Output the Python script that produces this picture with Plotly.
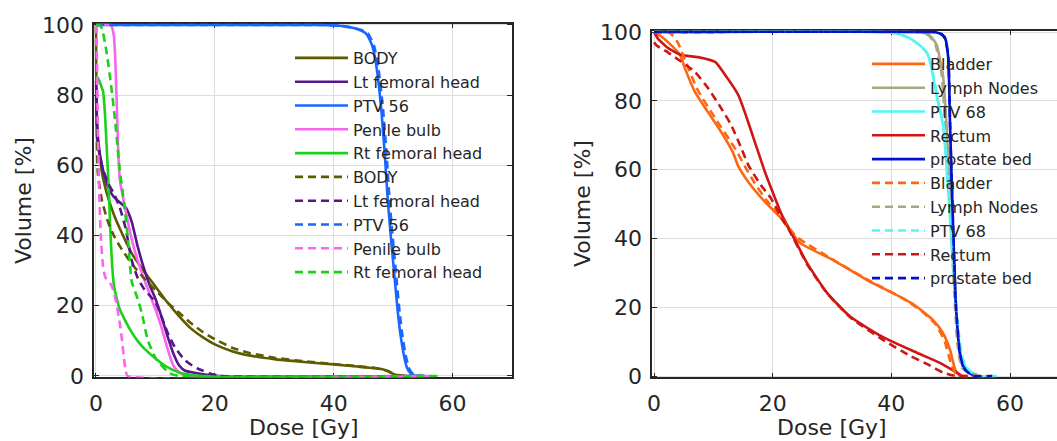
import plotly.graph_objects as go

# ---------------- Left panel data ----------------
left_names = ["BODY", "Lt femoral head", "PTV 56", "Penile bulb", "Rt femoral head"]
left_colors = ["#5E5A00", "#55168C", "#1A66FF", "#FA64F0", "#19D219"]

body_x = [0, 0.2, 1, 2, 3, 4, 6, 8, 10, 12, 14, 16, 18, 20, 23, 26, 30, 35, 40, 44, 47, 48.5, 49.5, 50.5, 52]
body_y = [100, 70, 58, 51, 46, 42, 35, 30, 25.5, 21, 17, 13.5, 11, 9, 7, 5.8, 4.8, 4, 3.3, 2.7, 2.2, 1.8, 1.0, 0.3, 0]
body_dx = [0, 0.3, 1, 2, 3, 4, 6, 8, 10, 12, 14, 16, 18, 20, 23, 26, 30, 35, 40, 44, 47, 49, 50.5, 52]
body_dy = [100, 58, 50, 44, 40, 37, 32, 28, 24.5, 21, 18, 15, 12.5, 10.5, 8, 6.5, 5.2, 4.2, 3.4, 2.8, 2.3, 1.5, 0.4, 0]

ltfh_x = [0, 0.3, 1, 2, 3, 4, 5, 6, 7, 8, 9, 10, 11, 12, 13, 14, 15, 17, 19, 21, 55]
ltfh_y = [84, 68, 60, 54, 51, 49.5, 48, 44, 37, 31, 26, 22, 17, 11.5, 6.5, 3, 1.5, 0.8, 0.3, 0, 0]
ltfh_dx = [0, 0.3, 1, 2, 3, 4, 5, 6, 7, 8, 9, 10, 11, 12, 13, 14, 15, 16, 17, 18, 19, 21, 56]
ltfh_dy = [80, 66, 60, 55, 52, 48, 42, 33, 28, 25, 23, 21, 17, 12.5, 9, 6.5, 4.5, 3.2, 2.2, 1.5, 0.8, 0, 0]

ptv56_x = [0, 38, 41, 43, 44.5, 45.5, 46.5, 47.2, 48, 48.6, 49.1, 49.7, 50.3, 50.8, 51.3, 51.8, 52.3, 52.8, 53.3, 54]
ptv56_y = [100, 100, 99.8, 99.3, 98.5, 97.5, 94, 88, 76, 63, 50, 38, 27, 18, 11, 6, 2.5, 1, 0.3, 0]
ptv56_dx = [0, 38, 41, 43, 44.8, 45.8, 46.8, 47.5, 48.3, 48.9, 49.4, 50.0, 50.6, 51.1, 51.6, 52.1, 52.6, 53.1, 53.6, 54.5, 56]
ptv56_dy = [100, 100, 99.8, 99.3, 98.5, 97.5, 94, 88, 76, 63, 50, 38, 27, 18, 11, 6, 2.5, 1, 0.3, 0, 0]

pb_x = [0, 0.1, 2.5, 3, 3.3, 3.7, 4, 5, 6, 7, 8, 9, 10, 11, 12, 13, 14, 15, 16, 55]
pb_y = [100, 100, 100, 97, 88, 66, 56, 47, 39, 33, 28, 23.5, 19, 14, 8, 3, 1, 0.3, 0, 0]
pb_dx = [0, 0.15, 0.3, 0.5, 0.8, 1.2, 1.6, 2.2, 2.8, 3.4, 4.0, 4.4, 4.7, 5.0, 5.3, 57]
pb_dy = [100, 90, 72, 55, 40, 31, 28, 27, 25, 21, 15, 10, 5, 1.5, 0, 0]

rtfh_x = [0, 0.3, 0.8, 1.2, 1.5, 1.8, 2.1, 2.4, 2.7, 3.0, 3.5, 4, 5, 6, 7, 8, 10, 12, 14, 16, 18, 55]
rtfh_y = [85, 85, 83, 81, 75, 65, 55, 42, 32, 26, 22, 19, 15.5, 12.5, 10, 8, 5, 2.5, 1, 0.3, 0, 0]
rtfh_dx = [0, 0.5, 1, 1.8, 2.6, 3.2, 4.0, 4.6, 5.4, 6.0, 7.0, 7.7, 8.7, 10.2, 12.4, 14, 58]
rtfh_dy = [100, 100, 99, 92, 82, 73, 58.7, 51, 38.7, 27, 22, 18, 10.3, 4.6, 0.8, 0, 0]

left_solid = [(body_x, body_y), (ltfh_x, ltfh_y), (ptv56_x, ptv56_y), (pb_x, pb_y), (rtfh_x, rtfh_y)]
left_dash = [(body_dx, body_dy), (ltfh_dx, ltfh_dy), (ptv56_dx, ptv56_dy), (pb_dx, pb_dy), (rtfh_dx, rtfh_dy)]

# ---------------- Right panel data ----------------
right_names = ["Bladder", "Lymph Nodes", "PTV 68", "Rectum", "prostate bed"]
right_colors = ["#FF6611", "#AAA684", "#55F5F5", "#D01515", "#0010D0"]

bl_x = [0, 1, 2.4, 4.4, 5.2, 6.9, 9.1, 11.3, 13.3, 14.2, 15.9, 18.7, 21.4, 24.6, 30.2, 35.9, 41.5, 44, 47, 48.7, 49.9, 50.8, 51.5, 52]
bl_y = [100, 99, 97, 93.3, 89.5, 82.6, 76.7, 71, 65, 61, 56.4, 50.6, 45.9, 38.7, 33.7, 27.9, 23, 20.5, 16.3, 12.5, 7.6, 1.7, 0.2, 0]
bl_dx = [0, 2.5, 4, 5.2, 7.4, 10.3, 13.7, 15.3, 17, 19, 21.5, 24, 30, 36, 42, 45, 47.5, 49, 50, 50.8, 52, 54]
bl_dy = [100, 100, 97, 92, 83, 75, 66, 61, 56, 51, 46, 40.5, 34, 28, 22.5, 19, 15, 10, 4, 0.8, 0, 0]

ln_x = [0, 44, 45.5, 46.5, 47.2, 47.7, 48.2, 48.7, 49.2, 49.6, 50, 50.3, 50.8, 51.3, 51.7, 52.1, 53, 54, 55]
ln_y = [100, 100, 99.7, 99, 97.5, 96, 92, 87.5, 76, 63.4, 53, 43.9, 24.4, 9.9, 5, 2.3, 1.2, 0.6, 0]
ln_dx = [0, 43.8, 45.3, 46.3, 47.0, 47.5, 48.0, 48.5, 49.0, 49.4, 49.8, 50.1, 50.6, 51.1, 51.5, 51.9, 52.8, 53.8, 55, 57.5]
ln_dy = [100, 100, 99.7, 99, 97.5, 96, 92, 87.5, 76, 63.4, 53, 43.9, 24.4, 9.9, 5, 2.3, 1.2, 0.6, 0, 0]

p68_x = [0, 39, 41, 43, 44.3, 45.3, 46, 46.6, 47, 47.8, 48.7, 49.6, 50.3, 51.1, 51.9, 52.6, 53.3, 54.5]
p68_y = [100, 100, 99.5, 98.3, 96.8, 95.3, 93.9, 91, 87.3, 80, 73, 53.5, 34.3, 14.8, 5.2, 2.5, 1.2, 0]
p68_dx = [0, 39, 41, 43, 44.3, 45.3, 46, 46.6, 47.1, 47.9, 48.8, 49.7, 50.4, 51.2, 52, 52.7, 53.4, 54.6, 57.8]
p68_dy = [100, 100, 99.5, 98.3, 96.8, 95.3, 93.9, 91, 87.3, 80, 73, 53.5, 34.3, 14.8, 5.2, 2.5, 1.2, 0, 0]

re_x = [0, 0.7, 2.4, 4.6, 7.4, 10.3, 12, 14.2, 15.3, 17, 18.7, 20.4, 21.5, 22.9, 25.8, 29.2, 33.1, 38.6, 44.4, 48.2, 51.1, 52]
re_y = [100, 98, 95.3, 93.3, 92.7, 91.3, 87.5, 81.7, 76.7, 68, 59.3, 51.7, 47, 42.4, 32.8, 24.1, 17.2, 11.3, 6.7, 3.8, 0.9, 0]
re_dx = [0, 0.5, 2.4, 4.5, 6.9, 9.1, 11.3, 13, 14.7, 15.9, 18, 19.7, 21.5, 22.9, 25.8, 29.2, 33.1, 38.6, 43, 46, 48.7, 50, 51, 54]
re_dy = [97, 96, 94, 91.5, 88.4, 83.7, 77.9, 73, 66.3, 61.3, 55.5, 51.7, 46, 42, 32.5, 24, 17, 10.5, 6, 3.5, 1, 0.3, 0, 0]

pbed_x = [0, 47, 47.8, 48.5, 49.1, 49.6, 49.9, 50.4, 50.9, 51.6, 52.2, 52.8, 54]
pbed_y = [100, 100, 99.8, 99.3, 98, 92.4, 73, 43.9, 19.8, 6.1, 2.5, 1.2, 0]
pbed_dx = [0, 47, 47.8, 48.5, 49.1, 49.6, 49.9, 50.4, 50.9, 51.6, 52.2, 52.8, 54, 57]
pbed_dy = [100, 100, 99.8, 99.3, 98, 92.4, 73, 43.9, 19.8, 6.1, 2.5, 1.2, 0, 0]

right_solid = [(bl_x, bl_y), (ln_x, ln_y), (p68_x, p68_y), (re_x, re_y), (pbed_x, pbed_y)]
right_dash = [(bl_dx, bl_dy), (ln_dx, ln_dy), (p68_dx, p68_dy), (re_dx, re_dy), (pbed_dx, pbed_dy)]

x_ticks = [0, 20, 40, 60]
y_ticks = [0, 20, 40, 60, 80, 100]

# ---------------- Figure ----------------
W, H = 1057, 441
FONT = "DejaVu Sans"
TXT = "#262626"
LW = 2.6
DASH = "8px,5px"

fig = go.Figure()

def add_set(names, colors, solid, dash, xa, ya, leg):
    for n, c, (x, y) in zip(names, colors, solid):
        fig.add_trace(go.Scatter(x=x, y=y, mode="lines", name=n, xaxis=xa, yaxis=ya,
                                 line=dict(color=c, width=LW, shape="spline", smoothing=0.5),
                                 legend=leg))
    for n, c, (x, y) in zip(names, colors, dash):
        fig.add_trace(go.Scatter(x=x, y=y, mode="lines", name=n, xaxis=xa, yaxis=ya,
                                 line=dict(color=c, width=LW, dash=DASH, shape="spline", smoothing=0.5),
                                 legend=leg))

add_set(left_names, left_colors, left_solid, left_dash, "x", "y", "legend")
add_set(right_names, right_colors, right_solid, right_dash, "x2", "y2", "legend2")

def px_x(p):
    return p / W

def px_y(p):
    return 1 - p / H

# Left axes: x 0 -> px 96, 70 -> px 512 ; y 0 -> 376, 100 -> 25
lx0, lx1 = 96, 512
ly0, ly1 = 376, 25
sx = (lx1 - lx0) / 70.0
sy = (ly0 - ly1) / 100.0
pad_x = 0.3
pad_y = 0.4
# Right axes: x 0 -> 654, 60 -> 1010 ; y 0 -> 376, 100 -> 32
rx0 = 654
rsx = (1010 - 654) / 60.0
ry0, ry1 = 376, 32
rsy = (ry0 - ry1) / 100.0
r_xmax = (W - rx0) / rsx

axis_common = dict(showline=True, linecolor=TXT, linewidth=1.5, ticks="inside", ticklen=5,
                   tickcolor=TXT, tickwidth=1, showgrid=True, gridcolor="#DCDCDC", gridwidth=1.2,
                   zeroline=False, tickfont=dict(family=FONT, size=22, color=TXT),
                   layer="below traces", automargin=False)
xstand = dict(ticklabelstandoff=5)
ystand = dict(ticklabelstandoff=4)

fig.update_layout(
    width=W, height=H, margin=dict(l=0, r=0, t=0, b=0, autoexpand=False),
    paper_bgcolor="white", plot_bgcolor="white", showlegend=True,
    xaxis=dict(domain=[px_x(lx0 - pad_x * sx), px_x(lx1)], range=[-pad_x, 70],
               tickvals=x_ticks, mirror="ticks", anchor="y", **axis_common, **xstand),
    yaxis=dict(domain=[px_y(ly0 + pad_y * sy), px_y(ly1 - pad_y * sy)], range=[-pad_y, 100 + pad_y],
               tickvals=y_ticks, mirror="ticks", anchor="x", **axis_common, **ystand),
    xaxis2=dict(domain=[px_x(rx0 - pad_x * rsx), 1.0], range=[-pad_x, r_xmax],
                tickvals=x_ticks, mirror="ticks", anchor="y2", **axis_common, **xstand),
    yaxis2=dict(domain=[px_y(ry0 + pad_y * rsy), px_y(ry1 - pad_y * rsy)], range=[-pad_y, 100 + pad_y],
                tickvals=y_ticks, mirror=False, anchor="x2", **axis_common, **ystand),
    legend=dict(x=px_x(290), y=px_y(41), xanchor="left", yanchor="top", bgcolor="rgba(0,0,0,0)",
                font=dict(family=FONT, size=16, color=TXT), itemwidth=53, traceorder="normal"),
    legend2=dict(x=px_x(867), y=px_y(47), xanchor="left", yanchor="top", bgcolor="rgba(0,0,0,0)",
                 font=dict(family=FONT, size=16, color=TXT), itemwidth=53, traceorder="normal"),
)

ann = dict(showarrow=False, xref="paper", yref="paper", font=dict(family=FONT, size=22, color=TXT))
fig.add_annotation(text="Dose [Gy]", x=px_x(304), y=px_y(427), xanchor="center", yanchor="middle", **ann)
fig.add_annotation(text="Dose [Gy]", x=px_x(832), y=px_y(427), xanchor="center", yanchor="middle", **ann)
fig.add_annotation(text="Volume [%]", x=px_x(23), y=px_y(201), xanchor="center", yanchor="middle",
                   textangle=-90, **ann)
fig.add_annotation(text="Volume [%]", x=px_x(582), y=px_y(204), xanchor="center", yanchor="middle",
                   textangle=-90, **ann)

fig.write_html("out.html", config={"displayModeBar": False},
               post_script="document.body.style.margin='0px';document.body.style.overflow='hidden';")
